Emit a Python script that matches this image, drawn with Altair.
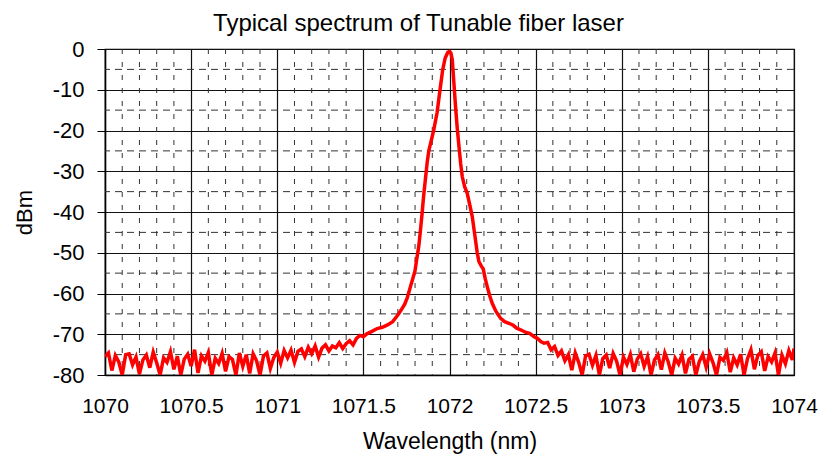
import altair as alt
import numpy as np
import pandas as pd

FONT = "Liberation Sans"

# ---- data ----
left_noise_x = [round(1070.00 + 0.02 * i, 2) for i in range(66)]
left_noise_y = [
    -75.5, -74.6, -78.9, -75.2, -76.8, -80.0, -75.0, -74.8, -77.5, -75.6,
    -79.8, -76.3, -75.1, -78.2, -74.4, -77.0, -80.0, -75.8, -76.9, -74.3,
    -78.6, -75.4, -80.0, -76.1, -74.9, -77.8, -73.8, -79.5, -75.3, -76.6,
    -74.5, -80.0, -75.9, -77.2, -74.7, -79.1, -75.5, -76.2, -80.0, -74.6,
    -77.9, -75.0, -79.6, -74.8, -76.5, -80.0, -75.3, -74.6, -78.4, -75.7,
    -74.4, -77.1, -74.0, -75.8, -73.9, -76.9, -74.2, -73.6, -75.5, -73.2,
    -74.8, -72.9, -75.6, -73.4, -72.6, -74.1,
]

peak_x = [
    1071.32, 1071.34, 1071.36, 1071.38, 1071.40, 1071.42, 1071.44, 1071.46,
    1071.48, 1071.50, 1071.52, 1071.55, 1071.58, 1071.61, 1071.64, 1071.67,
    1071.70, 1071.72, 1071.74, 1071.755, 1071.77, 1071.785, 1071.80, 1071.81,
    1071.822, 1071.832, 1071.841, 1071.850, 1071.860, 1071.870, 1071.880,
    1071.895, 1071.909, 1071.928, 1071.945, 1071.96, 1071.975, 1071.99,
    1072.0, 1072.008, 1072.016, 1072.025, 1072.035, 1072.045, 1072.055,
    1072.065, 1072.074, 1072.088, 1072.103, 1072.118, 1072.132, 1072.151,
    1072.161, 1072.171, 1072.185, 1072.196, 1072.207, 1072.219, 1072.233,
    1072.248, 1072.27, 1072.297, 1072.32, 1072.345, 1072.37, 1072.39,
    1072.413, 1072.44, 1072.465, 1072.491, 1072.51, 1072.53, 1072.549,
    1072.57, 1072.59, 1072.61, 1072.63, 1072.65, 1072.67,
]
peak_y = [
    -72.9, -73.3, -72.1, -73.5, -72.3, -71.6, -72.6, -71.0,
    -70.3, -70.6, -69.9, -69.3, -68.6, -68.3, -67.7, -66.9,
    -65.3, -64.0, -62.6, -61.0, -58.8, -56.6, -54.4, -51.5,
    -48.3, -44.2, -40.3, -36.0, -32.0, -28.0, -24.9,
    -22.3, -19.8, -15.6, -10.0, -5.2, -2.2, -0.8,
    -0.6, -1.0, -2.6, -8.0, -14.1, -19.5, -23.9,
    -28.2, -31.3, -33.8, -35.4, -38.3, -41.1, -46.9,
    -50.0, -52.2, -53.3, -54.0, -56.3, -58.3, -60.5,
    -62.4, -64.4, -66.1, -66.9, -67.3, -67.8, -68.5,
    -68.9, -69.5, -69.8, -70.6, -71.0, -71.8, -72.2,
    -72.0, -73.8, -73.0, -75.2, -74.1, -76.5,
]

right_noise_x = [round(1072.69 + 0.02 * i, 2) for i in range(66)] + [1074.0]
right_noise_y = [
    -75.0, -78.8, -74.6, -76.9, -80.0, -75.3, -74.9, -77.6, -75.2, -80.0,
    -76.0, -75.1, -78.3, -74.7, -76.6, -80.0, -75.6, -77.4, -75.0, -79.2,
    -76.1, -74.8, -77.9, -75.5, -80.0, -76.3, -75.0, -78.7, -74.6, -76.8,
    -80.0, -75.9, -77.3, -75.1, -79.6, -76.2, -75.4, -80.0, -76.7, -75.0,
    -78.1, -74.8, -77.0, -80.0, -75.7, -76.4, -74.5, -79.3, -75.8, -77.5,
    -74.9, -80.0, -76.0, -73.8, -78.6, -75.2, -74.3, -79.0, -75.5, -76.8,
    -74.6, -80.0, -75.1, -77.2, -74.0, -76.3, -73.5,
]

x_major_ticks = [1070, 1070.5, 1071, 1071.5, 1072, 1072.5, 1073, 1073.5, 1074]
y_major_ticks = [0, -10, -20, -30, -40, -50, -60, -70, -80]

spectrum = pd.DataFrame({
    "wl": left_noise_x + peak_x + right_noise_x,
    "dbm": left_noise_y + peak_y + right_noise_y,
})
spectrum["order"] = range(len(spectrum))

minor_x = [round(v, 1) for v in np.arange(1070.1, 1074.0, 0.1) if round(v * 10) % 5 != 0]
minor_y = [v for v in range(-75, 0, 10)]

xscale = alt.Scale(domain=[1070, 1074], nice=False, zero=False)
yscale = alt.Scale(domain=[-80, 0], nice=False)

xaxis = alt.Axis(
    values=x_major_ticks, labelExpr="toString(datum.value)", title="Wavelength (nm)",
    grid=True, gridColor="#111111", gridWidth=1.2, gridOpacity=1,
    ticks=False, labelPadding=20, labelFontSize=21, labelFont=FONT,
    labelColor="black", domainColor="black", domainWidth=1.5,
    titleFont=FONT, titleFontSize=23, titleFontWeight="normal",
    titleColor="black", titleY=55, titleBaseline="top",
    labelFlush=False,
)
yaxis = alt.Axis(
    values=y_major_ticks, labelExpr="toString(datum.value)", title="dBm",
    grid=True, gridColor="#111111", gridWidth=1.2, gridOpacity=1,
    ticks=True, tickSize=8, tickColor="black", labelPadding=13,
    labelFontSize=22, labelFont=FONT, labelColor="black",
    domainColor="black", domainWidth=1.5,
    titleFont=FONT, titleFontSize=22, titleFontWeight="normal",
    titleColor="black", titleX=-81, titleY=163, titleAngle=270,
    titleAlign="center", titleBaseline="middle", labelFlush=False,
)

minor_v = alt.Chart(pd.DataFrame({"wl": minor_x})).mark_rule(
    color="#333333", strokeWidth=1, strokeDash=[5, 8]
).encode(x=alt.X("wl:Q", scale=xscale, axis=xaxis))

minor_h = alt.Chart(pd.DataFrame({"dbm": minor_y})).mark_rule(
    color="#333333", strokeWidth=1, strokeDash=[7, 5]
).encode(y=alt.Y("dbm:Q", scale=yscale, axis=yaxis))

line = alt.Chart(spectrum).mark_line(
    color="#ff0000", strokeWidth=3.5, clip=True
).encode(
    x=alt.X("wl:Q", scale=xscale, axis=xaxis),
    y=alt.Y("dbm:Q", scale=yscale, axis=yaxis),
    order="order:Q",
)

chart = alt.layer(minor_v, minor_h, line).properties(
    width=689,
    height=326,
    autosize=alt.AutoSizeParams(type="none"),
    padding={"left": 97, "top": 41, "right": 25, "bottom": 80},
    title=alt.TitleParams(
        "Typical spectrum of Tunable fiber laser", font=FONT, fontSize=24,
        fontWeight="normal", color="black", anchor="middle", dx=-31,
        offset=2,
    ),
).configure_view(stroke="black", strokeWidth=1.2)

chart.save("out.html", embed_options={"renderer": "svg", "actions": False})
